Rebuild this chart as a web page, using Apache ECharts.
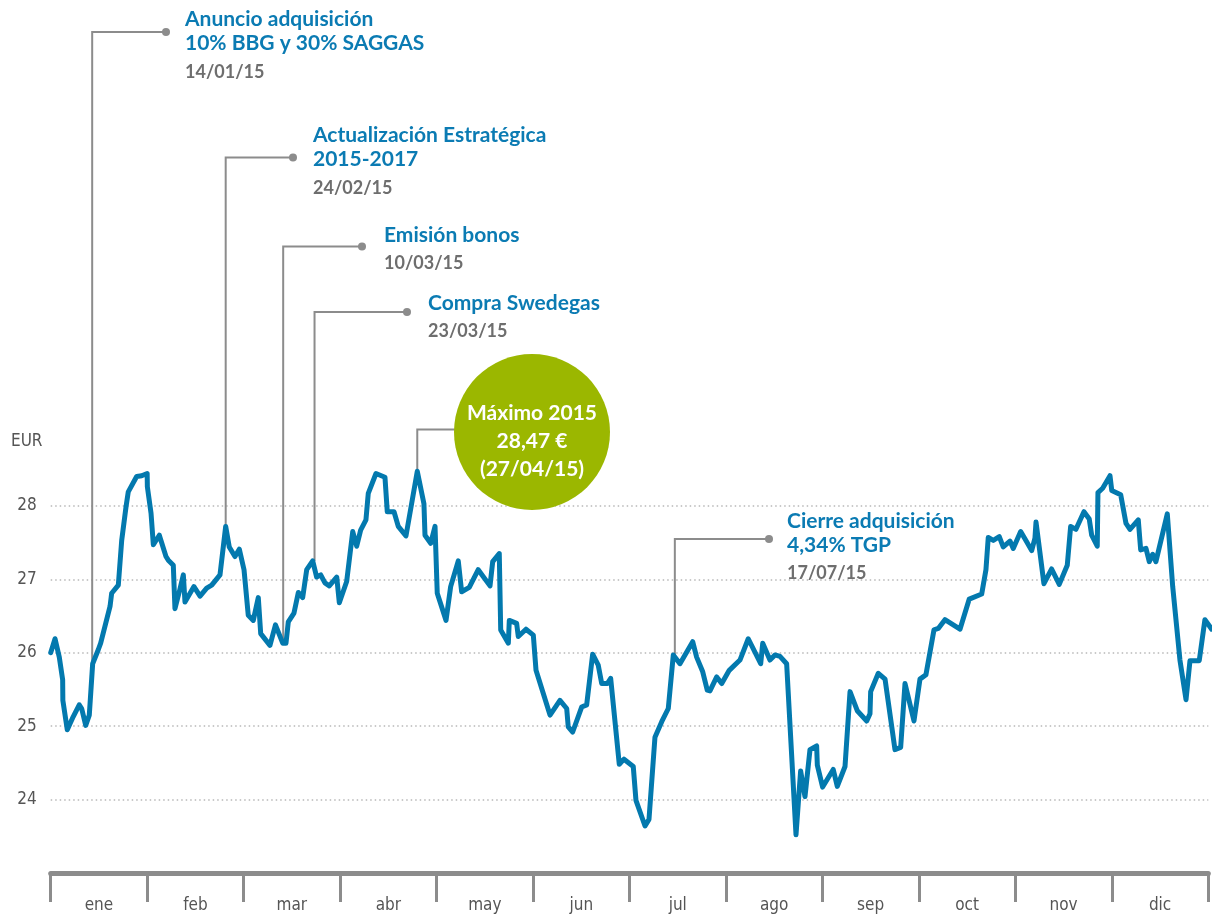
<!DOCTYPE html>
<html><head><meta charset="utf-8">
<script src="https://cdn.jsdelivr.net/npm/echarts@6/dist/echarts.min.js"></script>
<style>html,body{margin:0;padding:0;background:#fff}#c{width:1216px;height:914px}</style>
</head><body><div id="c"></div>
<script>
// ---- DATA ----
const months = ['ene','feb','mar','abr','may','jun','jul','ago','sep','oct','nov','dic'];
const yTicks = [24,25,26,27,28];
// position along the year in months (0 = 1 Jan, 12 = 31 Dec)
const monthPos = [0,0.045,0.089,0.124,0.126,0.172,0.234,0.296,0.321,0.363,
0.400,0.407,0.435,0.493,0.518,0.615,0.632,0.701,0.736,0.781,
0.804,0.891,0.943,1.000,1.002,1.040,1.064,1.126,1.195,1.219,
1.271,1.288,1.333,1.375,1.392,1.485,1.548,1.617,1.669,1.755,
1.814,1.851,1.910,1.955,2.004,2.048,2.100,2.152,2.177,2.273,
2.330,2.405,2.439,2.463,2.522,2.567,2.612,2.654,2.716,2.757,
2.799,2.843,2.888,2.965,2.992,3.068,3.131,3.172,3.213,3.268,
3.292,3.372,3.465,3.489,3.559,3.603,3.683,3.800,3.869,3.880,
3.939,3.984,4.007,4.098,4.146,4.225,4.260,4.339,4.432,4.554,
4.582,4.650,4.665,4.744,4.754,4.830,4.847,4.927,5.003,5.031,
5.176,5.279,5.349,5.365,5.411,5.504,5.556,5.618,5.676,5.712,
5.770,5.805,5.894,5.943,6.039,6.067,6.161,6.202,6.264,6.334,
6.402,6.454,6.523,6.655,6.696,6.759,6.806,6.834,6.904,6.956,
7.034,7.145,7.231,7.360,7.381,7.456,7.508,7.560,7.629,7.726,
7.774,7.819,7.871,7.940,7.947,8.002,8.112,8.154,8.234,8.286,
8.361,8.459,8.493,8.500,8.579,8.649,8.752,8.811,8.856,8.949,
9.011,9.073,9.156,9.201,9.270,9.426,9.522,9.651,9.695,9.719,
9.771,9.833,9.874,9.944,9.978,10.055,10.117,10.169,10.203,10.214,
10.296,10.376,10.455,10.538,10.573,10.628,10.711,10.766,10.791,10.849,
10.856,10.905,10.981,10.999,11.092,11.147,11.188,11.274,11.299,11.354,
11.388,11.423,11.457,11.575,11.631,11.706,11.769,11.810,11.906,11.965,
12.035];
const price = [26.00,26.19,25.94,25.63,25.35,24.95,25.13,25.29,25.24,25.01,
25.15,25.29,25.85,26.04,26.13,26.63,26.81,26.92,27.53,27.99,
28.19,28.40,28.41,28.44,28.26,27.90,27.47,27.60,27.31,27.26,
27.19,26.60,26.83,27.06,26.69,26.90,26.77,26.88,26.92,27.06,
27.72,27.44,27.31,27.41,27.13,26.51,26.44,26.75,26.26,26.10,
26.38,26.13,26.13,26.42,26.54,26.82,26.75,27.13,27.25,27.03,
27.06,26.95,26.91,27.03,26.68,26.97,27.65,27.45,27.67,27.81,
28.17,28.44,28.39,27.92,27.92,27.72,27.59,28.47,28.03,27.60,
27.49,27.72,26.81,26.44,26.90,27.25,26.83,26.89,27.13,26.91,
27.24,27.35,26.31,26.13,26.44,26.40,26.22,26.32,26.24,25.76,
25.15,25.35,25.24,24.99,24.92,25.26,25.29,25.98,25.83,25.58,
25.58,25.65,24.48,24.55,24.45,23.99,23.64,23.73,24.85,25.06,
25.24,25.97,25.85,26.15,25.94,25.74,25.49,25.48,25.67,25.58,
25.76,25.90,26.19,25.85,26.13,25.90,25.97,25.95,25.85,23.52,
24.39,24.04,24.68,24.73,24.47,24.17,24.41,24.18,24.45,25.47,
25.21,25.07,25.17,25.47,25.72,25.64,24.68,24.71,25.58,25.07,
25.64,25.70,26.31,26.33,26.45,26.32,26.73,26.80,27.13,27.57,
27.53,27.58,27.44,27.52,27.42,27.65,27.51,27.39,27.56,27.78,
26.94,27.14,26.93,27.19,27.72,27.68,27.92,27.82,27.60,27.45,
28.18,28.24,28.41,28.21,28.15,27.76,27.68,27.81,27.40,27.42,
27.24,27.34,27.24,27.89,26.90,25.90,25.36,25.89,25.89,26.45,
26.32];
// events: anchor on the line (month position, price) + texts
const eventT     = [0.43, 1.814, 2.41, 2.735, 6.47];
const eventPrice = [25.88, 27.72, 26.13, 27.25, 25.97];
const eventTitle = [['Anuncio adquisición','10% BBG y 30% SAGGAS'],['Actualización Estratégica','2015-2017'],['Emisión bonos'],['Compra Swedegas'],['Cierre adquisición','4,34% TGP']];
const eventDate  = ['14/01/15','24/02/15','10/03/15','23/03/15','17/07/15'];
const maxT = 3.80, maxPrice = 28.47;
const maxText = ['Máximo 2015','28,47 €','(27/04/15)'];
const unitLabel = 'EUR';

// ---- LAYOUT / STYLE ----
const evLayout = [
  {elbowY:32,  dotX:166, textX:185, titleY:19.5, dateY:72.5},
  {elbowY:157.5, dotX:293, textX:313, titleY:135, dateY:188.5},
  {elbowY:246.5, dotX:362, textX:384, titleY:235, dateY:263},
  {elbowY:312, dotX:407, textX:428, titleY:303.5, dateY:331.5},
  {elbowY:539, dotX:769, textX:787, titleY:521, dateY:573}
];
const BLUE = '#0b7bb3', LINE = '#0379ae', GRAY = '#8c8c8c', DATEGRAY = '#6e6e6e', GREEN = '#9bb700';
const COND = "'Liberation Sans Narrow','DejaVu Sans Condensed',sans-serif";
const TITLEF = "Lato, 'Open Sans', sans-serif";

const chart = echarts.init(document.getElementById('c'));
const data = monthPos.slice(0, Math.min(monthPos.length, price.length)).map((t,i)=>[t, price[i]]);

chart.setOption({
  animation: false,
  grid: {left: 50.7, right: 7.7, top: 432.4, bottom: 40.2, containLabel: false},
  xAxis: [
    {type:'value', min:0, max:12, show:false},
    {type:'category', data: months, boundaryGap:true, position:'bottom',
     axisLine:{show:true, lineStyle:{color:GRAY, width:5}},
     axisTick:{show:true, length:29, lineStyle:{color:GRAY, width:3}},
     axisLabel:{color:'#555', fontSize:17, fontFamily:COND, margin:24},
     splitLine:{show:false}}
  ],
  yAxis: {type:'value', min:23, max:29, interval:1,
    axisLine:{show:false}, axisTick:{show:false},
    axisLabel:{color:'#555', fontSize:17, fontFamily:COND, margin:14,
      formatter: v => yTicks.indexOf(v) >= 0 ? String(v) : ''},
    splitLine:{show:true, showMinLine:false, showMaxLine:false,
      lineStyle:{color:'#b8b8b8', width:1.5, type:[1.5,3]}}
  },
  series: [{type:'line', xAxisIndex:0, yAxisIndex:0, data: data, showSymbol:false, clip:false, z:2,
    lineStyle:{color:LINE, width:5, cap:'round', join:'round'}}]
});

const els = [];
eventT.forEach((t,i)=>{
  const L = evLayout[i];
  const p = chart.convertToPixel({seriesIndex:0}, [t, eventPrice[i]]);
  els.push({type:'polyline', z:1, shape:{points:[[p[0],p[1]],[p[0],L.elbowY],[L.dotX,L.elbowY]]},
    style:{stroke:GRAY, lineWidth:2, fill:null}});
  els.push({type:'circle', z:5, shape:{cx:L.dotX, cy:L.elbowY, r:4}, style:{fill:GRAY}});
  eventTitle[i].forEach((s,k)=>{
    els.push({type:'text', z:5, style:{text:s, x:L.textX, y:L.titleY + k*24, fill:BLUE,
      fontSize:21, fontWeight:'bold', fontFamily:TITLEF, verticalAlign:'middle', align:'left'}});
  });
  els.push({type:'text', z:5, style:{text:eventDate[i], x:L.textX, y:L.dateY, fill:DATEGRAY,
    fontSize:18, fontWeight:'bold', fontFamily:TITLEF, verticalAlign:'middle', align:'left'}});
});
// maximum bubble
const pm = chart.convertToPixel({seriesIndex:0}, [maxT, maxPrice]);
const circ = {cx:532, cy:432, r:78};
els.push({type:'polyline', z:1, shape:{points:[[pm[0],pm[1]],[pm[0],429.5],[circ.cx,429.5]]},
  style:{stroke:GRAY, lineWidth:2, fill:null}});
els.push({type:'circle', z:4, shape:circ, style:{fill:GREEN}});
maxText.forEach((s,k)=>{
  els.push({type:'text', z:6, style:{text:s, x:circ.cx, y:413 + k*28, fill:'#fff',
    fontSize:21, fontWeight:'bold', fontFamily:TITLEF, verticalAlign:'middle', align:'center'}});
});
els.push({type:'text', z:5, style:{text:unitLabel, x:11, y:441.5, fill:'#555', fontSize:17,
  fontFamily:COND, verticalAlign:'middle', align:'left'}});
chart.setOption({graphic: els});
</script>
</body></html>
